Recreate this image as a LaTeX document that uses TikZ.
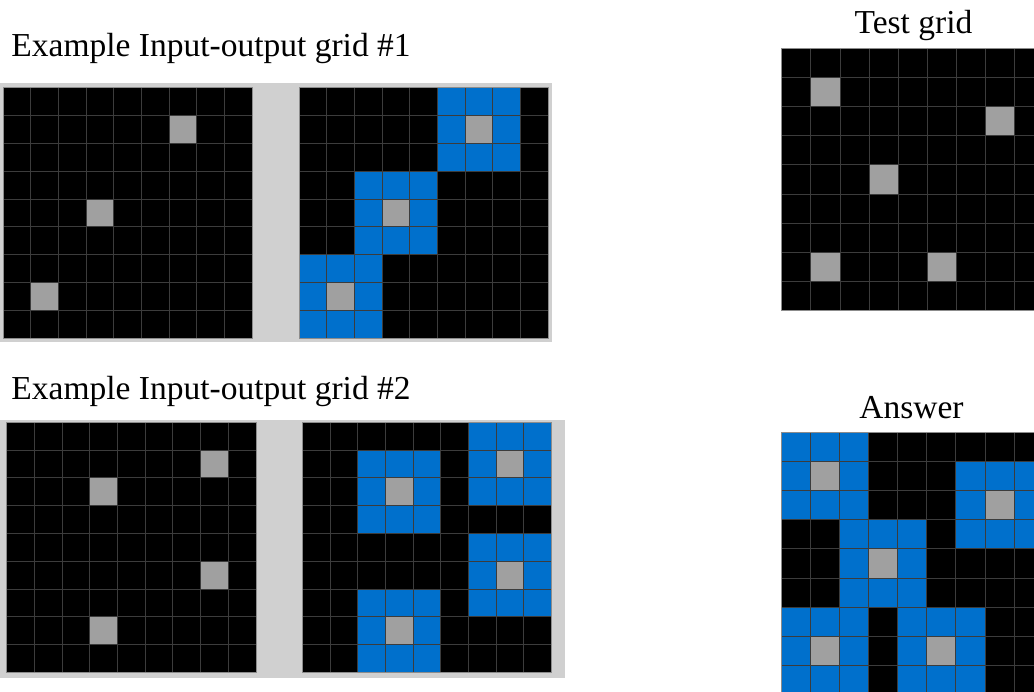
\documentclass[tikz,border=0pt]{standalone}
\usepackage{fontspec}
\setmainfont{Liberation Serif}
\definecolor{panelgray}{HTML}{D0D0D0}
\definecolor{arcblue}{HTML}{0070CC}
\definecolor{arcgray}{HTML}{A0A0A0}
\definecolor{linegray}{HTML}{3C3C3C}
\definecolor{edgegray}{HTML}{8C8C8C}
\tikzset{
  panel/.style={fill=panelgray},
  cellline/.style={draw=linegray, line width=1pt},
  gridedge/.style={draw=edgegray, line width=1pt},
  title/.style={inner sep=0pt, font=\fontsize{33.5}{40}\selectfont},
}
\newcommand{\arcgridbody}[2]{%
  \fill[black] (0,0) rectangle (9,9);
  \ifnum#2=1
    \foreach \c/\r in {#1} {\fill[arcblue] (\c-1,\r-1) rectangle ++(3,3);}
  \fi
  \foreach \c/\r in {#1} {\fill[arcgray] (\c,\r) rectangle ++(1,1);}
  \foreach \i in {1,...,8} {\draw[cellline] (\i,0) -- (\i,9); \draw[cellline] (0,\i) -- (9,\i);}
  \draw[gridedge] (0,0) rectangle (9,9);
}
\begin{document}
\begin{tikzpicture}[x=1pt, y=-1pt]
  \clip (0,0) rectangle (1034,692);
  \fill[white] (0,0) rectangle (1034,692);

  % titles
  \node[title, anchor=base west] (ex1) at (11.3,56.7) {Example Input-output grid \#1};
  \node[title, anchor=base west] (ex2) at (11.3,400) {Example Input-output grid \#2};
  \node[title, anchor=base] (test) at (913.5,34) {Test grid};
  \node[title, anchor=base] (ans) at (911.5,419) {Answer};

  % example 1
  \fill[panel] (0,83) rectangle (552,342);
  \begin{scope}[shift={(3,88)}, x=27.67pt, y=-27.78pt]
    \arcgridbody{6/1,3/4,1/7}{0}
  \end{scope}
  \begin{scope}[shift={(299,88)}, x=27.67pt, y=-27.78pt]
    \arcgridbody{6/1,3/4,1/7}{1}
  \end{scope}

  % example 2
  \fill[panel] (0,420) rectangle (565,678);
  \begin{scope}[shift={(6.7,422.3)}, x=27.7pt, y=-27.8pt]
    \arcgridbody{7/1,3/2,7/5,3/7}{0}
  \end{scope}
  \begin{scope}[shift={(302.3,422.3)}, x=27.7pt, y=-27.8pt]
    \arcgridbody{7/1,3/2,7/5,3/7}{1}
  \end{scope}

  % test grid
  \begin{scope}[shift={(781.7,48.3)}, x=29.15pt, y=-29.15pt]
    \arcgridbody{1/1,7/2,3/4,1/7,5/7}{0}
  \end{scope}

  % answer grid
  \begin{scope}[shift={(781,432.3)}, x=29.15pt, y=-29.15pt]
    \arcgridbody{1/1,7/2,3/4,1/7,5/7}{1}
  \end{scope}
\end{tikzpicture}
\end{document}
